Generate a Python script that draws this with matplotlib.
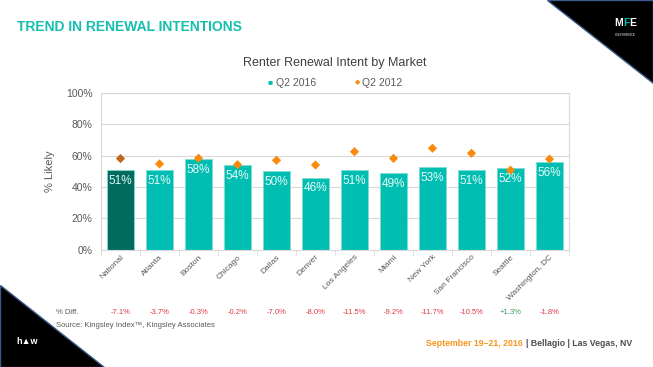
import matplotlib.pyplot as plt
from matplotlib.patches import Polygon
from matplotlib.transforms import blended_transform_factory

# данные
markets = ['National', 'Atlanta', 'Boston', 'Chicago', 'Dallas', 'Denver', 'Los Angeles',
           'Miami', 'New York', 'San Francisco', 'Seattle', 'Washington, DC']
q2_2016 = [51, 51, 58, 54, 50, 46, 51, 49, 53, 51, 52, 56]
q2_2012 = [58.1, 54.7, 58.3, 54.2, 57.0, 54.0, 62.5, 58.2, 64.7, 61.5, 50.7, 57.8]
pct_diff = ['-7.1%', '-3.7%', '-0.3%', '-0.2%', '-7.0%', '-8.0%', '-11.5%', '-9.2%',
            '-11.7%', '-10.5%', '+1.3%', '-1.8%']
yticks = [0, 20, 40, 60, 80, 100]

teal = '#00BFB2'
dark_teal = '#006B5F'
orange = '#F98A0C'
gray = '#595959'

plt.rcParams['font.family'] = ['Liberation Sans', 'DejaVu Sans']

fig = plt.figure(figsize=(6.53, 3.67), dpi=100)
W, H = 653, 367

def fx(px):
    return px / W

def fy(py):
    return 1 - py / H

# угловые треугольники
fig.patches.append(Polygon([(fx(547), fy(0)), (1, fy(0)), (1, fy(83))], closed=True,
                           transform=fig.transFigure, facecolor='black',
                           edgecolor='#3B5A8C', lw=1.0))
fig.patches.append(Polygon([(0, fy(285)), (0, 0), (fx(104), 0)], closed=True,
                           transform=fig.transFigure, facecolor='black',
                           edgecolor='#3B5A8C', lw=1.0))

# логотип MFE
fig.text(fx(614), fy(23.5), 'M', color='white', fontsize=7.5, fontweight='bold',
         ha='left', va='center')
fig.text(fx(623.5), fy(23.5), 'F', color=teal, fontsize=7.5, fontweight='bold',
         ha='left', va='center')
fig.text(fx(629.5), fy(23.5), 'E', color='white', fontsize=7.5, fontweight='bold',
         ha='left', va='center')
fig.text(fx(625), fy(35), 'CONFERENCE', color='white', fontsize=2.2,
         ha='center', va='center')

# логотип внизу
fig.text(fx(27), fy(342), 'h\u25B2w', color='white', fontsize=6.5, fontweight='bold',
         ha='center', va='center')

# заголовок слайда
fig.text(fx(17), fy(27), 'TREND IN RENEWAL INTENTIONS', color='#14BFB0', fontsize=10,
         fontweight='bold', ha='left', va='center')

ax = fig.add_axes([fx(101), fy(249.5), fx(569) - fx(101), (249.5 - 93) / H])
x = list(range(len(markets)))
colors = [dark_teal] + [teal] * (len(markets) - 1)
ax.bar(x, q2_2016, width=0.67, color=colors, edgecolor='#7FDCD3', linewidth=0.6,
       zorder=2, label='Q2 2016')
ax.scatter(x, q2_2012, marker='D', s=22, color=[('#C0661A' if i == 0 else orange) for i in x],
           zorder=3, label='Q2 2012', linewidths=0)

for xi, v in zip(x, q2_2016):
    ax.text(xi, v - 7, f'{v}%', ha='center', va='center', color='#EAF9F7', fontsize=8.5,
            zorder=4)

ax.set_xlim(-0.5, len(markets) - 0.5)
ax.set_ylim(0, 100)
ax.set_yticks(yticks)
ax.set_yticklabels([f'{t}%' for t in yticks], color=gray, fontsize=7.5)
ax.tick_params(axis='y', length=0, pad=6)
ax.grid(axis='y', color='#D9D9D9', lw=0.8, zorder=0)
ax.set_axisbelow(True)
for s in ax.spines.values():
    s.set_color('#D9D9D9')
    s.set_linewidth(0.8)

ax.set_xticks(x)
ax.set_xticklabels(markets, rotation=45, ha='right', rotation_mode='anchor',
                   fontsize=6, color=gray)
ax.tick_params(axis='x', length=0, pad=3)
ax.set_xticks([i - 0.5 for i in range(len(markets) + 1)], minor=True)
ax.tick_params(axis='x', which='minor', length=4, color='#D9D9D9')

ax.set_ylabel('% Likely', color=gray, fontsize=8, labelpad=8)
fig.text(fx(335), fy(63), 'Renter Renewal Intent by Market', color='#404040', fontsize=9,
         ha='center', va='center')

# легенда
fig.text(fx(268), fy(83), '\u25A0', color=teal, fontsize=6, ha='left', va='center')
fig.text(fx(276), fy(83), 'Q2 2016', color=gray, fontsize=7.5, ha='left', va='center')
fig.text(fx(355), fy(83), '\u25C6', color=orange, fontsize=5, ha='left', va='center')
fig.text(fx(362), fy(83), 'Q2 2012', color=gray, fontsize=7.5, ha='left', va='center')

# строка % Diff
tr = blended_transform_factory(ax.transData, fig.transFigure)
fig.text(fx(56), fy(312), '% Diff.', color=gray, fontsize=5.5, ha='left', va='center')
for xi, d in zip(x, pct_diff):
    c = '#3A9A5C' if d.startswith('+') else '#E0393E'
    ax.text(xi, fy(312), d, transform=tr, ha='center', va='center', color=c, fontsize=5.5)
fig.text(fx(56), fy(325), 'Source: Kingsley Index\u2122, Kingsley Associates', color=gray,
         fontsize=5.5, ha='left', va='center')

# дата
fig.text(fx(523), fy(343), 'September 19\u201321, 2016', color='#F7941D', fontsize=6.3,
         fontweight='bold', ha='right', va='center')
fig.text(fx(526), fy(343), '| Bellagio | Las Vegas, NV', color='#4D4D4D', fontsize=6.3,
         fontweight='bold', ha='left', va='center')

fig.savefig('out.png', dpi=100)
